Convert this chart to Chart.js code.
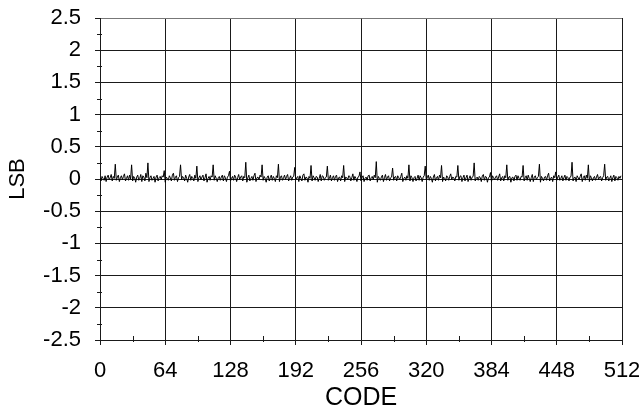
<!DOCTYPE html>
<html lang="en">
<head>
    <meta charset="UTF-8">
    <title>DNL vs Code</title>
    <script src="https://cdn.jsdelivr.net/npm/chart.js"></script>
    <style>
        html, body { margin: 0; padding: 0; background: #fff; }
        #wrap { width: 639px; height: 413px; }
    </style>
</head>
<body>
    <div id="wrap"><canvas id="dnlChart"></canvas></div>

    <script>
        // x axis: code 0..512, labelled every 64
        const xTicks = [0, 64, 128, 192, 256, 320, 384, 448, 512];
        // y axis: LSB, labelled every 0.5
        const yTicks = [-2.5, -2, -1.5, -1, -0.5, 0, 0.5, 1, 1.5, 2, 2.5];

        // measured error per code (LSB), 16 codes per row
        const lsb = [
            0.02,-0.03,0.04,0.01,-0.02,0.05,-0.04,0.03,0.06,-0.01,0.02,0.07,-0.03,0.04,0.01,0.23,
            -0.02,0.03,0.06,-0.04,0.02,0.05,-0.01,0.04,0.08,-0.03,0.01,0.05,-0.02,0.06,0.00,0.22,
            -0.03,0.04,0.02,-0.05,0.03,0.06,-0.02,0.01,0.07,-0.04,0.05,0.03,-0.03,0.09,0.02,0.25,
            -0.04,0.02,0.05,-0.02,0.01,0.04,-0.05,0.03,0.06,-0.03,0.02,0.04,-0.01,0.05,0.03,0.13,
            -0.05,0.03,0.01,-0.02,0.05,0.02,-0.03,0.06,0.09,-0.02,0.03,0.05,-0.04,0.02,0.04,0.22,
            -0.01,0.04,0.02,-0.03,0.06,0.01,-0.05,0.03,0.07,-0.02,0.04,0.02,-0.03,0.06,0.01,0.20,
            -0.04,0.02,0.05,-0.01,0.03,0.06,-0.03,0.02,0.08,-0.05,0.01,0.04,-0.02,0.05,0.03,0.22,
            -0.02,0.05,0.01,-0.04,0.02,0.04,-0.02,0.03,0.06,-0.03,0.05,0.02,-0.04,0.03,0.05,0.12,
            -0.03,0.01,0.04,-0.02,0.06,0.03,-0.04,0.02,0.07,-0.01,0.03,0.05,-0.03,0.04,0.02,0.26,
            -0.05,0.02,0.06,-0.03,0.01,0.04,-0.02,0.05,0.09,-0.04,0.02,0.03,-0.01,0.06,0.03,0.22,
            -0.02,0.04,0.01,-0.05,0.03,0.05,-0.03,0.02,0.06,-0.02,0.04,0.01,-0.04,0.05,0.02,0.23,
            -0.04,0.03,0.05,-0.02,0.02,0.06,-0.01,0.04,0.07,-0.03,0.01,0.05,-0.02,0.03,0.04,0.18,
            -0.01,0.02,0.04,-0.04,0.05,0.01,-0.03,0.06,0.08,-0.02,0.03,0.02,-0.05,0.04,0.01,0.21,
            -0.03,0.05,0.02,-0.02,0.04,0.03,-0.04,0.01,0.07,-0.03,0.05,0.04,-0.02,0.02,0.03,0.20,
            -0.02,0.01,0.06,-0.03,0.02,0.05,-0.02,0.04,0.06,-0.04,0.02,0.03,-0.03,0.05,0.02,0.21,
            -0.04,0.03,0.02,-0.01,0.05,0.04,-0.03,0.02,0.08,-0.02,0.04,0.01,-0.04,0.03,0.04,0.11,
            -0.03,0.02,0.05,-0.04,0.01,0.03,-0.02,0.05,0.06,-0.03,0.02,0.04,-0.01,0.06,0.02,0.27,
            -0.05,0.04,0.01,-0.02,0.03,0.06,-0.04,0.02,0.07,-0.02,0.03,0.05,-0.03,0.02,0.03,0.17,
            -0.02,0.03,0.04,-0.03,0.05,0.02,-0.01,0.04,0.09,-0.04,0.01,0.03,-0.02,0.05,0.01,0.22,
            -0.03,0.05,0.02,-0.04,0.02,0.04,-0.03,0.01,0.06,-0.02,0.05,0.02,-0.04,0.03,0.05,0.20,
            -0.01,0.02,0.06,-0.02,0.04,0.01,-0.05,0.03,0.07,-0.03,0.02,0.04,-0.02,0.06,0.02,0.21,
            -0.04,0.03,0.01,-0.03,0.05,0.03,-0.02,0.04,0.08,-0.01,0.03,0.02,-0.03,0.04,0.03,0.21,
            -0.02,0.04,0.05,-0.04,0.02,0.06,-0.03,0.02,0.06,-0.04,0.01,0.05,-0.02,0.03,0.04,0.25,
            -0.03,0.01,0.03,-0.02,0.04,0.02,-0.04,0.05,0.07,-0.02,0.04,0.03,-0.05,0.02,0.03,0.10,
            -0.04,0.05,0.02,-0.01,0.03,0.05,-0.02,0.03,0.08,-0.03,0.02,0.04,-0.03,0.05,0.02,0.22,
            -0.02,0.03,0.04,-0.05,0.02,0.03,-0.03,0.04,0.06,-0.02,0.05,0.01,-0.02,0.04,0.03,0.21,
            -0.03,0.02,0.05,-0.02,0.06,0.01,-0.04,0.02,0.07,-0.04,0.03,0.05,-0.01,0.02,0.04,0.23,
            -0.05,0.04,0.01,-0.03,0.03,0.04,-0.02,0.05,0.09,-0.03,0.01,0.03,-0.04,0.05,0.02,0.11,
            -0.02,0.03,0.06,-0.02,0.01,0.05,-0.03,0.02,0.06,-0.02,0.04,0.02,-0.03,0.03,0.04,0.26,
            -0.03,0.02,0.03,-0.04,0.05,0.02,-0.01,0.04,0.08,-0.04,0.02,0.05,-0.02,0.06,0.01,0.22,
            -0.04,0.05,0.02,-0.03,0.02,0.04,-0.02,0.03,0.07,-0.01,0.03,0.04,-0.03,0.02,0.05,0.23,
            -0.02,0.03,0.04,-0.03,0.01,0.05,-0.04,0.02,0.06,-0.03,0.04,0.02,-0.02,0.04,0.01,0.05
        ];

        const points = lsb.map((v, code) => ({ x: code, y: v }));

        const FAMILY = "'Liberation Sans', Arial, sans-serif";
        const TICK_FONT = { family: FAMILY, size: 22 };
        const AXIS = '#1a1a1a';

        // small ticks halfway between the labelled ones, crossing the axis lines
        const minorTicks = {
            id: 'minorTicks',
            afterDraw(chart) {
                const { ctx, chartArea, scales } = chart;
                ctx.save();
                ctx.strokeStyle = AXIS;
                ctx.lineWidth = 1;
                ctx.beginPath();
                for (let i = 0; i < xTicks.length - 1; i++) {
                    const px = Math.round(scales.x.getPixelForValue((xTicks[i] + xTicks[i + 1]) / 2)) + 0.5;
                    ctx.moveTo(px, chartArea.bottom - 4);
                    ctx.lineTo(px, chartArea.bottom + 2);
                }
                for (let i = 0; i < yTicks.length - 1; i++) {
                    const py = Math.round(scales.y.getPixelForValue((yTicks[i] + yTicks[i + 1]) / 2)) + 0.5;
                    ctx.moveTo(chartArea.left - 3, py);
                    ctx.lineTo(chartArea.left + 2, py);
                }
                ctx.stroke();
                ctx.restore();
            }
        };

        new Chart(document.getElementById('dnlChart').getContext('2d'), {
            type: 'line',
            data: {
                datasets: [{
                    data: points,
                    borderColor: '#000',
                    borderWidth: 1,
                    pointRadius: 0,
                    tension: 0
                }]
            },
            options: {
                responsive: true,
                maintainAspectRatio: false,
                animation: false,
                layout: { padding: { top: 18, right: 17, left: 0, bottom: 0 } },
                plugins: { legend: { display: false }, tooltip: { enabled: false } },
                scales: {
                    x: {
                        type: 'linear',
                        min: 0,
                        max: 512,
                        afterBuildTicks: s => { s.ticks = xTicks.map(v => ({ value: v })); },
                        afterFit: s => { s.height = 73; s.paddingLeft = 0; s.paddingRight = 0; },
                        ticks: { color: '#000', font: TICK_FONT, padding: 13, maxRotation: 0, autoSkip: false },
                        grid: { color: AXIS, tickColor: AXIS, tickLength: 5 },
                        border: { color: AXIS },
                        title: { display: true, text: 'CODE', color: '#000', font: { family: FAMILY, size: 25 }, padding: { top: 0, bottom: 0 } }
                    },
                    y: {
                        min: -2.5,
                        max: 2.5,
                        afterBuildTicks: s => { s.ticks = yTicks.map(v => ({ value: v })); },
                        afterFit: s => { s.width = 100; s.paddingTop = 0; s.paddingBottom = 0; },
                        ticks: { color: '#000', font: TICK_FONT, padding: 14, callback: v => String(v) },
                        grid: {
                            color: c => (c.tick && c.tick.value === 2.5) ? '#777' : AXIS,
                            tickColor: AXIS,
                            tickLength: 5
                        },
                        border: { color: AXIS },
                        title: { display: true, text: 'LSB', color: '#000', font: { family: FAMILY, size: 22 }, padding: { top: 5, bottom: 0 } }
                    }
                }
            },
            plugins: [minorTicks]
        });
    </script>
</body>
</html>
